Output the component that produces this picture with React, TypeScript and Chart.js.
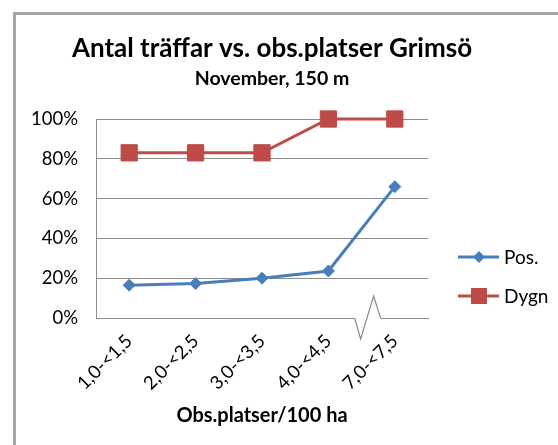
import React, { useEffect, useRef } from "react";
import { Chart, registerables } from "chart.js";

Chart.register(...registerables);

const categories = ["1,0-<1,5", "2,0-<2,5", "3,0-<3,5", "4,0-<4,5", "7,0-<7,5"];
const posValues = [16.5, 17.3, 20, 23.6, 66];
const dygnValues = [83, 83, 83, 100, 100];
const seriesNames = ["Pos.", "Dygn"];
const yTicks = [0, 20, 40, 60, 80, 100];
const titleText = "Antal träffar vs. obs.platser Grimsö";
const subtitleText = "November, 150 m";
const xAxisTitle = "Obs.platser/100 ha";

const BLUE = "#4a7ebb";
const RED = "#be4b48";
const GRID = "#8c8c8c";
const FONT = "Lato, 'DejaVu Sans', sans-serif";

const decorPlugin = {
  id: "decor",
  afterDraw(chart: any) {
    const ctx = chart.ctx;
    const xs = chart.scales.x;
    const ys = chart.scales.y;
    const area = chart.chartArea;
    ctx.save();
    // titles
    const cx = (area.left + area.right) / 2 + 10;
    ctx.fillStyle = "#000";
    ctx.textAlign = "center";
    ctx.textBaseline = "middle";
    ctx.font = `bold 26px ${FONT}`;
    ctx.fillText(titleText, cx, 49);
    ctx.font = `bold 19.5px ${FONT}`;
    ctx.fillText(subtitleText, cx, 79);

    // axis break on x axis between 4th and 5th category
    const bx = (xs.getPixelForValue(3) + xs.getPixelForValue(4)) / 2;
    const by = ys.getPixelForValue(0);
    ctx.fillStyle = "#fff";
    ctx.fillRect(bx - 7, by - 2, 26, 4);
    ctx.strokeStyle = GRID;
    ctx.lineWidth = 1.2;
    ctx.beginPath();
    ctx.moveTo(bx - 7, by);
    ctx.lineTo(bx - 1, by + 21);
    ctx.lineTo(bx + 12, by - 22);
    ctx.lineTo(bx + 19, by);
    ctx.stroke();

    // legend
    const items = [
      { name: seriesNames[0], color: BLUE, style: "diamond", y: 257 },
      { name: seriesNames[1], color: RED, style: "square", y: 296 },
    ];
    for (const it of items) {
      ctx.strokeStyle = it.color;
      ctx.lineWidth = 3;
      ctx.beginPath();
      ctx.moveTo(458, it.y);
      ctx.lineTo(499, it.y);
      ctx.stroke();
      ctx.fillStyle = it.color;
      const mx = 479;
      if (it.style === "diamond") {
        ctx.beginPath();
        ctx.moveTo(mx, it.y - 6);
        ctx.lineTo(mx + 6, it.y);
        ctx.lineTo(mx, it.y + 6);
        ctx.lineTo(mx - 6, it.y);
        ctx.closePath();
        ctx.fill();
      } else {
        ctx.fillRect(mx - 8, it.y - 8, 16, 16);
      }
      ctx.fillStyle = "#000";
      ctx.textAlign = "left";
      ctx.font = `19px ${FONT}`;
      ctx.fillText(it.name, 504, it.y + 1);
    }
    ctx.restore();
  },
};

export default function App() {
  const ref = useRef<HTMLCanvasElement>(null);
  useEffect(() => {
    if (!ref.current) return;
    const chart = new Chart(ref.current, {
      type: "line",
      data: {
        labels: categories,
        datasets: [
          {
            label: seriesNames[0],
            data: posValues,
            borderColor: BLUE,
            backgroundColor: BLUE,
            borderWidth: 3,
            pointStyle: "rectRot",
            pointRadius: 6,
            pointBorderWidth: 1,
            tension: 0,
            clip: false,
          },
          {
            label: seriesNames[1],
            data: dygnValues,
            borderColor: RED,
            backgroundColor: RED,
            borderWidth: 3,
            pointStyle: "rect",
            pointRadius: 11.5,
            pointBorderWidth: 1,
            tension: 0,
            clip: false,
          },
        ],
      },
      plugins: [decorPlugin],
      options: {
        responsive: false,
        animation: false,
        layout: { padding: { left: 0, right: 130, top: 119, bottom: 0 } },
        plugins: {
          legend: { display: false },
          title: { display: false },
          tooltip: { enabled: false },
        },
        scales: {
          x: {
            offset: true,
            grid: { display: false, drawTicks: false },
            border: { color: GRID, width: 1 },
            ticks: {
              minRotation: 45,
              maxRotation: 45,
              padding: 12,
              color: "#000",
              font: { family: FONT, size: 18.5 },
            },
            title: {
              display: true,
              text: xAxisTitle,
              color: "#000",
              font: { family: FONT, size: 20, weight: "bold" },
              padding: { top: 4, bottom: 17 },
            },
            afterFit(scale: any) {
              scale.height = 127;
            },
          },
          y: {
            min: 0,
            max: 100,
            afterBuildTicks(scale: any) {
              scale.ticks = yTicks.map((v) => ({ value: v }));
            },
            grid: { color: GRID, lineWidth: 1, drawTicks: false },
            border: { color: GRID, width: 1 },
            ticks: {
              padding: 18,
              color: "#000",
              font: { family: FONT, size: 18.5 },
              callback: (v: any) => `${v}%`,
            },
            afterFit(scale: any) {
              scale.width = 96;
            },
          },
        },
      },
    });
    return () => chart.destroy();
  }, []);
  return (
    <div
      style={{
        position: "fixed",
        left: 0,
        top: 0,
        width: 558,
        height: 445,
        overflow: "hidden",
        background: "#fff",
      }}
    >
      <div
        style={{
          position: "absolute",
          left: 13,
          top: 12,
          width: 700,
          height: 700,
          borderLeft: "3px solid #a6a6a6",
          borderTop: "3px solid #a6a6a6",
        }}
      />
      <canvas
        ref={ref}
        width={558}
        height={445}
        style={{ position: "absolute", left: 0, top: 0 }}
      />
    </div>
  );
}
